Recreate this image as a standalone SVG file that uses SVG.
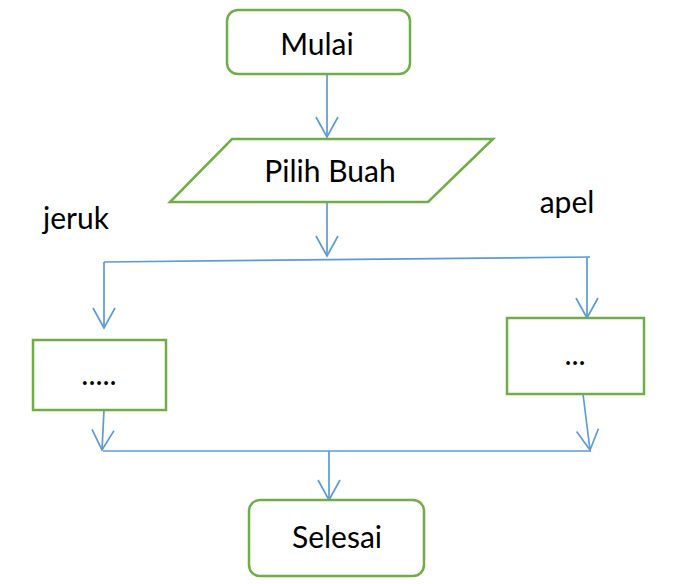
<svg xmlns="http://www.w3.org/2000/svg" width="675" height="584" viewBox="0 0 675 584">
<style>
.n{fill:#fff;stroke:#70AD47;stroke-width:2.5}
.t{font-family:Lato,"Liberation Sans",sans-serif;font-size:30px;fill:#000;text-anchor:middle}
.c{fill:none;stroke:#5B9BD5;stroke-width:1.7}
</style>
<defs>
<marker id="a" markerUnits="userSpaceOnUse" markerWidth="26" markerHeight="26" viewBox="-22 -13 26 26" refX="0" refY="0" orient="auto">
<path d="M-20,-11 L0,0 L-20,11" fill="none" stroke="#5B9BD5" stroke-width="1.7"/>
</marker>
</defs>
<rect width="675" height="584" fill="#fff"/>
<g id="connectors">
<line class="c" x1="327" y1="74" x2="327" y2="137" marker-end="url(#a)"/>
<line class="c" x1="327" y1="202" x2="327" y2="256" marker-end="url(#a)"/>
<line class="c" x1="104" y1="262" x2="590" y2="257"/>
<line class="c" x1="104" y1="262" x2="104" y2="328" marker-end="url(#a)"/>
<line class="c" x1="587" y1="257" x2="587" y2="318" marker-end="url(#a)"/>
<line class="c" x1="104" y1="410" x2="102" y2="450" marker-end="url(#a)"/>
<line class="c" x1="583" y1="394" x2="590" y2="450" marker-end="url(#a)"/>
<line class="c" x1="103" y1="451" x2="591" y2="451"/>
<line class="c" x1="329" y1="451" x2="329" y2="500" marker-end="url(#a)"/>
</g>
<g id="mulai">
<rect class="n" x="227" y="10" width="183" height="64" rx="11"/>
<text class="t" x="317" y="55">Mulai</text>
</g>
<g id="pilih">
<polygon class="n" points="232,139 493,139 428,202 170,202"/>
<text class="t" x="330" y="182">Pilih Buah</text>
</g>
<g id="lbl-jeruk"><text class="t" x="76" y="229">jeruk</text></g>
<g id="lbl-apel"><text class="t" x="567" y="213">apel</text></g>
<g id="box-jeruk">
<rect class="n" x="33" y="340" width="133" height="70"/>
<text class="t" x="99" y="385">.....</text>
</g>
<g id="box-apel">
<rect class="n" x="507" y="318" width="137" height="76"/>
<text class="t" x="575" y="365">...</text>
</g>
<g id="selesai">
<rect class="n" x="249" y="500" width="175" height="76" rx="11"/>
<text class="t" x="337" y="548">Selesai</text>
</g>
</svg>
